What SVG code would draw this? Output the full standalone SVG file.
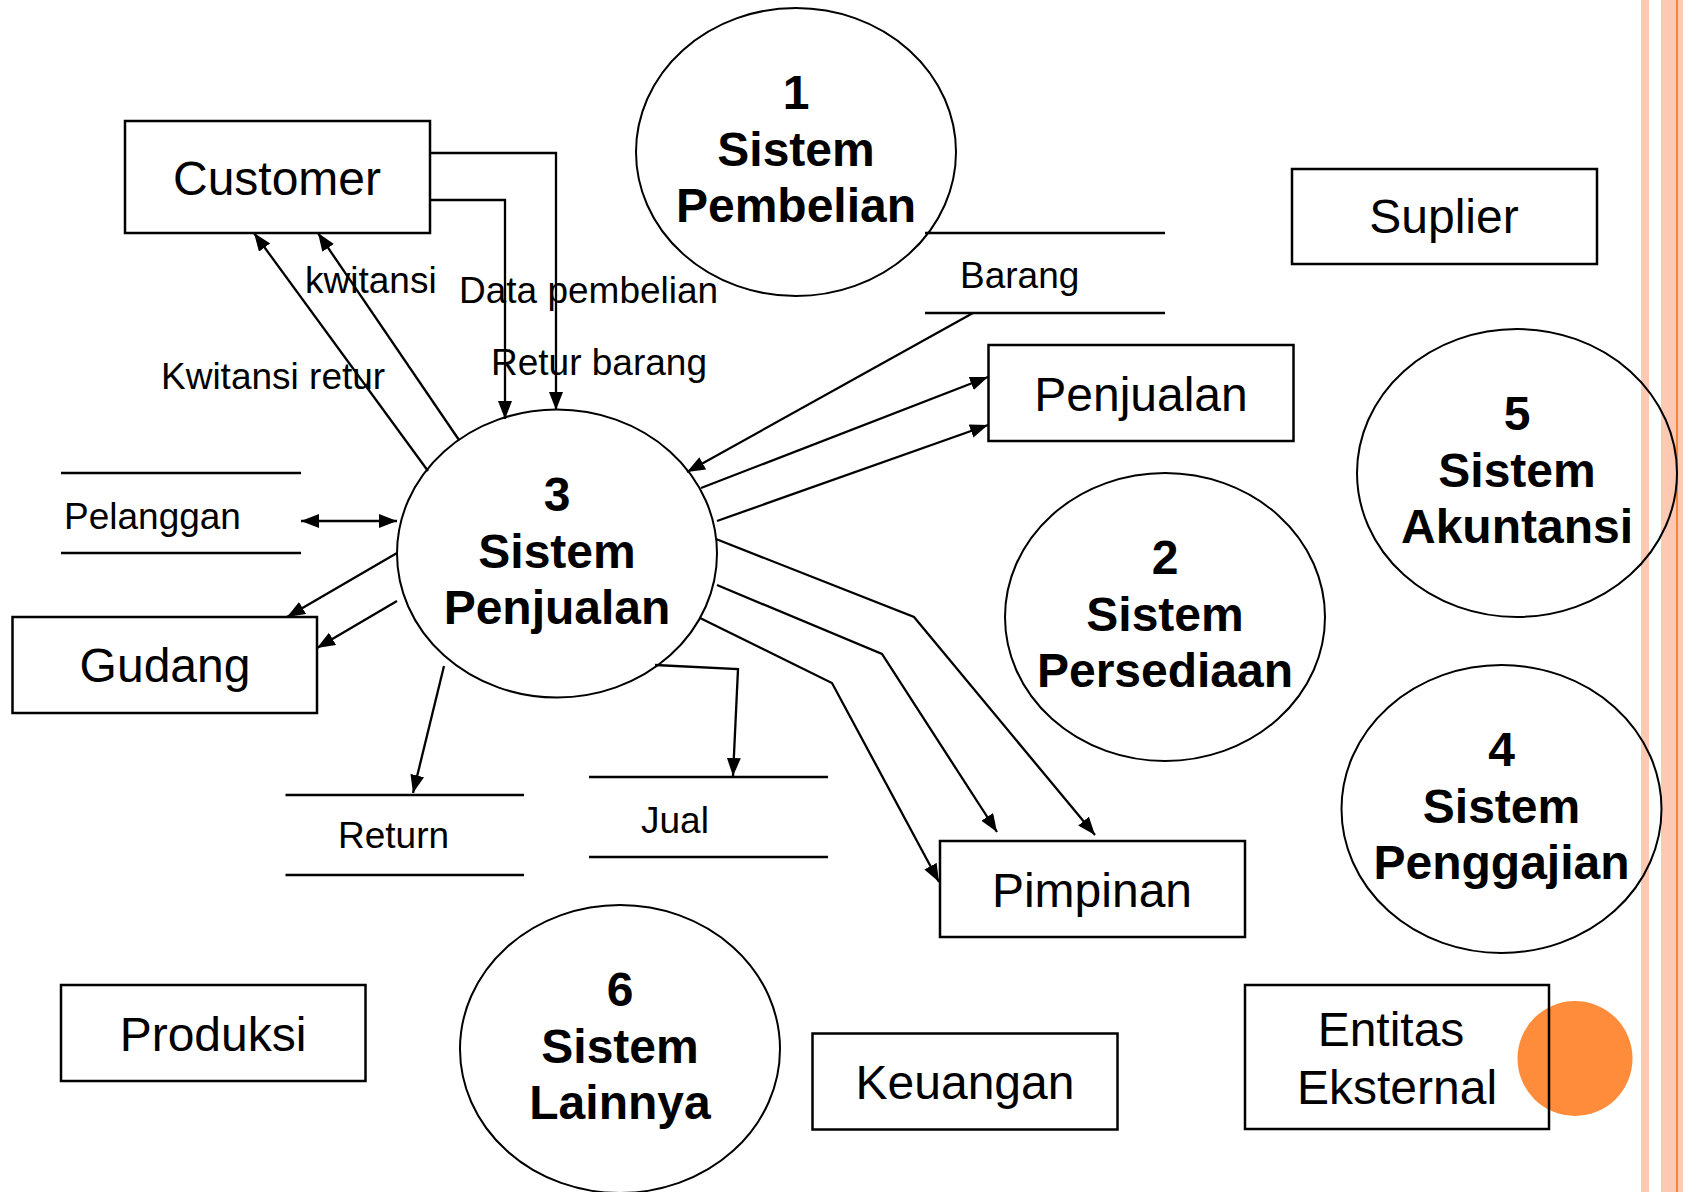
<svg xmlns="http://www.w3.org/2000/svg" width="1683" height="1192" viewBox="0 0 1683 1192">
  <style>
    .entity { fill: none; stroke: #000; stroke-width: 2.5; }
    .process { fill: none; stroke: #000; stroke-width: 2; }
    .store { stroke: #000; stroke-width: 2.5; }
    .flow { fill: none; stroke: #000; stroke-width: 2.3; marker-end: url(#arrow); }
    .ptext { font-family: "Liberation Sans", Arial, sans-serif; font-weight: bold; font-size: 48px; text-anchor: middle; fill: #000; }
    .etext { font-family: "Liberation Sans", Arial, sans-serif; font-size: 48px; text-anchor: middle; fill: #000; }
    .label { font-family: "Liberation Sans", Arial, sans-serif; font-size: 37px; fill: #000; }
  </style>
  <defs>
    <marker id="arrow" markerUnits="userSpaceOnUse" markerWidth="19" markerHeight="15" refX="18" refY="7" orient="auto-start-reverse">
      <path d="M0,0 L18,7 L0,14 Z" fill="#000"/>
    </marker>
  </defs>

  <rect width="1683" height="1192" fill="#fff"/>

  <!-- slide border stripes and accent dot -->
  <g id="decor">
    <rect x="1641" y="0" width="8" height="1192" fill="#FDC9B3"/>
    <rect x="1661" y="0" width="22" height="1192" fill="#FDC9B3"/>
    <rect x="1676" y="0" width="2" height="1192" fill="#F98332"/>
    <circle cx="1575" cy="1058.5" r="57.5" fill="#FF8C3B"/>
  </g>

  <!-- data flows -->
  <g id="connectors">
    <path class="flow" d="M430 153 H556 V410"/>
    <path class="flow" d="M430 200 H505 V419"/>
    <path class="flow" d="M428 471 L254 233"/>
    <path class="flow" d="M459 440 L318 233"/>
    <path class="flow" d="M973 313 L687 472"/>
    <path class="flow" d="M701 488 L988 377"/>
    <path class="flow" d="M717 521 L988 425"/>
    <path class="flow" d="M716 539 L914 617 L1095 835"/>
    <path class="flow" d="M717 585 L882 654 L997 832"/>
    <path class="flow" d="M700 618 L832 683 L939 882"/>
    <path class="flow" d="M655 665 L738 669 L733 776"/>
    <path class="flow" d="M444 666 L413 793"/>
    <path class="flow" d="M397 553 L287 617"/>
    <path class="flow" d="M397 601 L317 648"/>
    <path class="flow" d="M301 521 L397 521" marker-start="url(#arrow)"/>
    <text class="label" x="305" y="293">kwitansi</text>
    <text class="label" x="459" y="303">Data pembelian</text>
    <text class="label" x="491" y="375">Retur barang</text>
    <text class="label" x="161" y="389">Kwitansi retur</text>
  </g>

  <!-- external entities -->
  <g id="customer">
    <rect class="entity" x="125" y="121" width="305" height="112"/>
    <text class="etext" x="277" y="195">Customer</text>
  </g>
  <g id="suplier">
    <rect class="entity" x="1292" y="169" width="305" height="95"/>
    <text class="etext" x="1444" y="233">Suplier</text>
  </g>
  <g id="penjualan">
    <rect class="entity" x="988.5" y="345" width="305" height="96"/>
    <text class="etext" x="1141" y="411">Penjualan</text>
  </g>
  <g id="gudang">
    <rect class="entity" x="12.5" y="617" width="304.5" height="96"/>
    <text class="etext" x="165" y="682">Gudang</text>
  </g>
  <g id="pimpinan">
    <rect class="entity" x="940" y="841" width="305" height="96"/>
    <text class="etext" x="1092" y="907">Pimpinan</text>
  </g>
  <g id="produksi">
    <rect class="entity" x="61" y="985" width="304.5" height="96"/>
    <text class="etext" x="213" y="1051">Produksi</text>
  </g>
  <g id="keuangan">
    <rect class="entity" x="812.5" y="1033.5" width="305" height="96"/>
    <text class="etext" x="965" y="1099">Keuangan</text>
  </g>
  <g id="entitas-eksternal">
    <rect class="entity" x="1245" y="985" width="304" height="144"/>
    <text class="etext" x="1391" y="1046">Entitas</text>
    <text class="etext" x="1397" y="1104">Eksternal</text>
  </g>

  <!-- processes -->
  <g id="p1">
    <ellipse class="process" cx="796" cy="152" rx="160" ry="144"/>
    <text class="ptext" x="796" y="109">1</text>
    <text class="ptext" x="796" y="166">Sistem</text>
    <text class="ptext" x="796" y="222">Pembelian</text>
  </g>
  <g id="p3">
    <ellipse class="process" cx="557" cy="553.5" rx="160" ry="144"/>
    <text class="ptext" x="557" y="510.5">3</text>
    <text class="ptext" x="557" y="567.5">Sistem</text>
    <text class="ptext" x="557" y="623.5">Penjualan</text>
  </g>
  <g id="p2">
    <ellipse class="process" cx="1165" cy="617" rx="160" ry="144"/>
    <text class="ptext" x="1165" y="574">2</text>
    <text class="ptext" x="1165" y="631">Sistem</text>
    <text class="ptext" x="1165" y="687">Persediaan</text>
  </g>
  <g id="p5">
    <ellipse class="process" cx="1517" cy="473" rx="160" ry="144"/>
    <text class="ptext" x="1517" y="430">5</text>
    <text class="ptext" x="1517" y="487">Sistem</text>
    <text class="ptext" x="1517" y="543">Akuntansi</text>
  </g>
  <g id="p4">
    <ellipse class="process" cx="1501.5" cy="809" rx="160" ry="144"/>
    <text class="ptext" x="1501.5" y="766">4</text>
    <text class="ptext" x="1501.5" y="823">Sistem</text>
    <text class="ptext" x="1501.5" y="879">Penggajian</text>
  </g>
  <g id="p6">
    <ellipse class="process" cx="620" cy="1049" rx="160" ry="144"/>
    <text class="ptext" x="620" y="1006">6</text>
    <text class="ptext" x="620" y="1063">Sistem</text>
    <text class="ptext" x="620" y="1119">Lainnya</text>
  </g>

  <!-- data stores -->
  <g id="store-barang">
    <line class="store" x1="925" y1="233" x2="1165" y2="233"/>
    <line class="store" x1="925" y1="313" x2="1165" y2="313"/>
    <text class="label" x="960" y="288">Barang</text>
  </g>
  <g id="store-pelanggan">
    <line class="store" x1="61" y1="473" x2="301" y2="473"/>
    <line class="store" x1="61" y1="553" x2="301" y2="553"/>
    <text class="label" x="64" y="529">Pelanggan</text>
  </g>
  <g id="store-return">
    <line class="store" x1="285.5" y1="795" x2="524" y2="795"/>
    <line class="store" x1="285.5" y1="875" x2="524" y2="875"/>
    <text class="label" x="338" y="848">Return</text>
  </g>
  <g id="store-jual">
    <line class="store" x1="589" y1="777" x2="828" y2="777"/>
    <line class="store" x1="589" y1="857" x2="828" y2="857"/>
    <text class="label" x="641" y="833">Jual</text>
  </g>
</svg>
